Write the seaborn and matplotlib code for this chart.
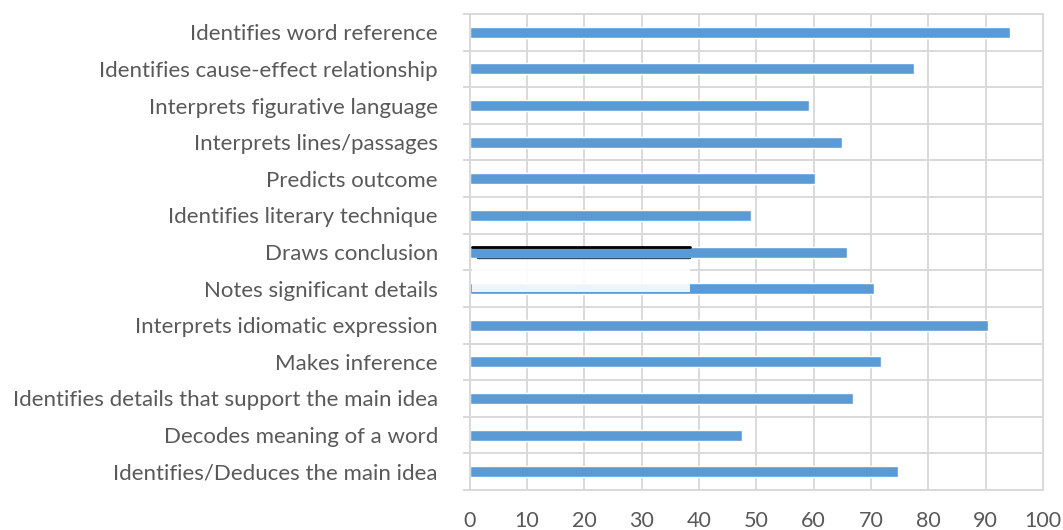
import numpy as np
import pandas as pd
import matplotlib
matplotlib.use("Agg")
import matplotlib.pyplot as plt
import seaborn as sns
from matplotlib.patches import Rectangle

skills = [
    "Identifies word reference",
    "Identifies cause-effect relationship",
    "Interprets figurative language",
    "Interprets lines/passages",
    "Predicts outcome",
    "Identifies literary technique",
    "Draws conclusion",
    "Notes significant details",
    "Interprets idiomatic expression",
    "Makes inference",
    "Identifies details that support the main idea",
    "Decodes meaning of a word",
    "Identifies/Deduces the main idea",
]
scores = [94.2, 77.5, 59.2, 64.9, 60.2, 49.0, 65.9, 70.5, 90.4, 71.7, 66.9, 47.5, 74.7]
x_ticks = list(range(0, 101, 10))

df = pd.DataFrame({"skill": skills, "score": scores})

sns.set_theme(style="white")
plt.rcParams["font.family"] = ["Lato", "DejaVu Sans"]

fig = plt.figure(figsize=(10.63, 5.30), dpi=100)
ax = fig.add_axes([0.442, 0.0755, 0.539, 0.898])

sns.barplot(data=df, x="score", y="skill", orient="h", color="#5B9BD5",
            saturation=1, width=0.3, ax=ax)

grid_c = "#d9d9d9"
ax.set_xlim(0, 100)
ax.set_ylim(len(skills) - 0.5, -0.5)
ax.set_xticks(x_ticks)
ax.set_xticklabels([str(t) for t in x_ticks])
ax.set_yticks(np.arange(-0.5, len(skills), 1), minor=True)
ax.grid(axis="x", color=grid_c, lw=1.4)
ax.grid(axis="y", which="minor", color=grid_c, lw=1.4)
ax.set_axisbelow(True)
for s in ax.spines.values():
    s.set_color(grid_c)
    s.set_linewidth(1.4)
ax.tick_params(axis="x", length=0, pad=15, labelsize=15.5, labelcolor="#595959")
ax.tick_params(axis="y", which="major", length=0, pad=23, labelsize=16, labelcolor="#595959")
ax.tick_params(axis="y", which="minor", length=5, width=1.4, color=grid_c, left=True)
ax.set_xlabel("")
ax.set_ylabel("")

# white overlay box that hides part of two bars in the original image
bars = ax.patches
b_dc = bars[skills.index("Draws conclusion")]
b_nd = bars[skills.index("Notes significant details")]
x0, x1 = 0.3, 38.4
top = b_dc.get_y()
ax.add_patch(Rectangle((x0, top + b_dc.get_height()), x1 - x0,
                       b_nd.get_y() + b_nd.get_height() * 0.8 - top - b_dc.get_height(),
                       facecolor="white", edgecolor="none", alpha=0.9, zorder=3))
ax.plot([x0, x1], [top, top], color="black", lw=2, zorder=4)
ax.plot([1.2, x1], [top + b_dc.get_height(), top + b_dc.get_height()],
        color="#2f4f6f", lw=1, zorder=4)

fig.savefig("out.png", dpi=100)
